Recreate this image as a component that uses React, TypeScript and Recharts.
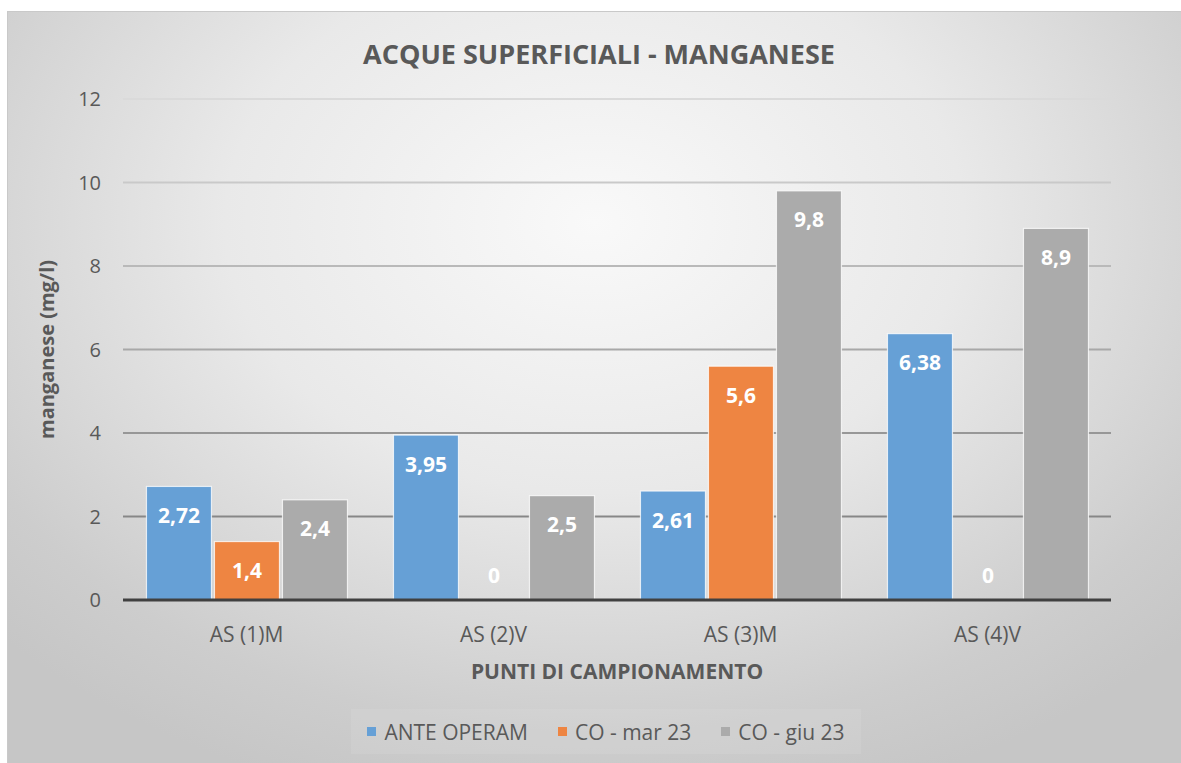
import React from "react";
import { BarChart, Bar, XAxis, YAxis, CartesianGrid, LabelList, Label } from "recharts";

const categories = ["AS (1)M", "AS (2)V", "AS (3)M", "AS (4)V"];
const anteOperam = [2.72, 3.95, 2.61, 6.38];
const coMar23 = [1.4, 0, 5.6, 0];
const coGiu23 = [2.4, 2.5, 9.8, 8.9];
const seriesNames = ["ANTE OPERAM", "CO - mar 23", "CO - giu 23"];
const seriesKeys = ["ante", "mar", "giu"];
const seriesColors = ["#66a0d6", "#ee8542", "#ababab"];
const yTicks = [0, 2, 4, 6, 8, 10, 12];

const data = categories.map((c, i) => ({
  name: c,
  ante: anteOperam[i],
  mar: coMar23[i],
  giu: coGiu23[i],
}));

const FONT = "'Open Sans', 'Noto Sans', sans-serif";
const TEXT = "#595959";

const fmt = (v: number) => String(v).replace(".", ",");

// value labels sit inside the top of the bar; zero values sit just above the axis
const renderValue = (props: any) => {
  const x = Number(props.x);
  const y = Number(props.y);
  const w = Number(props.width);
  const h = Number(props.height);
  const v = Number(props.value);
  const top = Math.min(y, y + h);
  const base = Math.max(y, y + h);
  const cy = v === 0 ? base - 25 : top + 29;
  return (
    <text x={x + w / 2} y={cy + 7.5} textAnchor="middle" fill="#ffffff"
      fontSize={21} fontWeight="bold" fontFamily={FONT}>
      {fmt(v)}
    </text>
  );
};

// bars with a zero value keep their slot (so the label shows) but draw nothing
const barShape = (key: string) => (props: any) => {
  const v = Number(props.payload ? props.payload[key] : props.value);
  if (!v) return <g />;
  const { x, y, width, height, fill } = props;
  return (
    <rect x={x} y={y} width={width} height={height} fill={fill}
      stroke="#ffffff" strokeOpacity={0.75} strokeWidth={1.2} />
  );
};

// gridlines get darker towards the bottom of the plot, as in the original
const gridLine = (p: any) => {
  const t = Math.max(0, Math.min(1, (p.y1 - 87) / (588 - 87)));
  const c = Math.round(218 - t * 100);
  return (
    <line key={`g-${p.index}-${p.y1}`} x1={p.x1} y1={p.y1} x2={p.x2} y2={p.y2}
      stroke={`rgb(${c},${c},${c})`} strokeWidth={2} />
  );
};

export default function App() {
  return (
    <div style={{ position: "absolute", left: 0, top: 0, width: 1181, height: 763, background: "#fff", overflow: "hidden" }}>
      <div
        style={{
          position: "absolute", left: 7, top: 11, width: 1174, height: 752,
          borderTop: "1px solid #c9c9c9", borderLeft: "1px solid #c9c9c9", boxSizing: "border-box",
          background: "radial-gradient(ellipse 70% 80% at 50% 28%, #f9f9f9 0%, #e9e9e9 45%, #cdcdcd 85%, #c6c6c6 100%)",
        }}
      >
        <BarChart
          width={1174}
          height={752}
          data={data}
          margin={{ top: 87, right: 71, left: 0, bottom: 124 }}
          barCategoryGap="9.5%"
          barGap={3}
        >
          <text x={591} y={51.6} textAnchor="middle" fill={TEXT} fontSize={27} fontWeight="bold" fontFamily={FONT}>
            ACQUE SUPERFICIALI - MANGANESE
          </text>
          <CartesianGrid vertical={false} horizontal={gridLine} />
          <XAxis
            dataKey="name"
            tickSize={0}
            tickMargin={27}
            height={40}
            tickLine={false}
            axisLine={{ stroke: "#404040", strokeWidth: 3 }}
            tick={{ fontSize: 21, fill: TEXT, fontFamily: FONT }}
          >
            <Label
              content={(p: any) => {
                const vb = p.viewBox || {};
                return (
                  <text x={vb.x + vb.width / 2} y={vb.y + 78.5} textAnchor="middle" fill={TEXT}
                    fontSize={21} fontWeight="bold" fontFamily={FONT}>
                    PUNTI DI CAMPIONAMENTO
                  </text>
                );
              }}
            />
          </XAxis>
          <YAxis
            width={115}
            domain={[0, 12]}
            ticks={yTicks}
            tickSize={0}
            tickMargin={22}
            tickLine={false}
            axisLine={false}
            tick={{ fontSize: 20, fill: TEXT, fontFamily: FONT }}
          >
            <Label
              content={() => (
                <text x={46} y={337.5} transform="rotate(-90 46 337.5)" textAnchor="middle" fill={TEXT}
                  fontSize={20} fontWeight="bold" fontFamily={FONT}>
                  manganese (mg/l)
                </text>
              )}
            />
          </YAxis>
          {seriesKeys.map((k, i) => (
            <Bar key={k} dataKey={k} name={seriesNames[i]} fill={seriesColors[i]}
              minPointSize={1} shape={barShape(k)} isAnimationActive={false}>
              <LabelList dataKey={k} content={renderValue} />
            </Bar>
          ))}
        </BarChart>

        <div
          style={{
            position: "absolute", left: 343, top: 697, width: 510, height: 45,
            background: "rgba(255,255,255,0.08)", display: "flex", alignItems: "center",
            justifyContent: "center", fontFamily: FONT, fontSize: 21, color: TEXT, whiteSpace: "nowrap",
          }}
        >
          {seriesNames.map((n, i) => (
            <div key={n} style={{ display: "flex", alignItems: "center", marginLeft: i === 0 ? 0 : 30 }}>
              <span style={{ display: "inline-block", width: 9, height: 9, background: seriesColors[i], marginRight: 8 }} />
              <span>{n}</span>
            </div>
          ))}
        </div>
      </div>
    </div>
  );
}
